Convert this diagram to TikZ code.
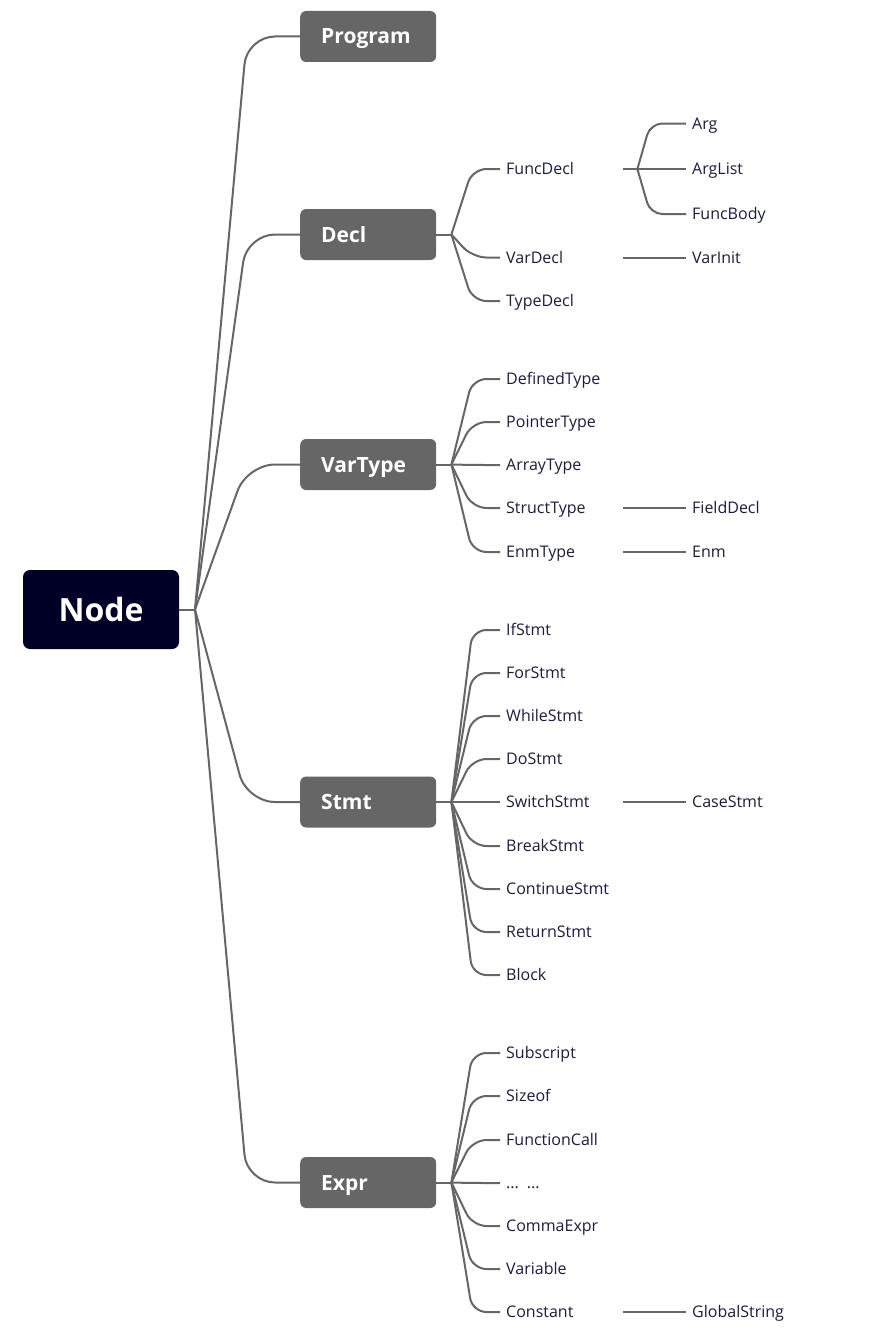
\documentclass[tikz,border=0pt]{standalone}
\usepackage{fontspec}
\setmainfont{Open Sans}
\definecolor{boxgray}{HTML}{666666}
\definecolor{linegray}{HTML}{666666}
\definecolor{rootnavy}{HTML}{000026}
\definecolor{textnavy}{HTML}{1C1C3C}
\begin{document}
\begin{tikzpicture}[x=1pt,y=-1pt,
  rootbox/.style={fill=rootnavy, rounded corners=7pt, minimum width=156pt, minimum height=79pt,
    text=white, font=\fontsize{32}{36}\selectfont\bfseries, inner sep=0pt,
    text height=23pt, text depth=0pt},
  mainbox/.style={fill=boxgray, rounded corners=6pt, anchor=west, text width=94pt, inner xsep=21pt,
    minimum height=51pt, align=left, text=white, font=\fontsize{21}{24}\selectfont\bfseries,
    text height=15pt, text depth=0pt},
  leaftwo/.style={anchor=west, text width=111pt, inner xsep=6pt, inner ysep=2pt, align=left,
    text=textnavy, font=\fontsize{16}{18}\selectfont, text height=11.5pt, text depth=0pt},
  leafthree/.style={anchor=west, inner xsep=6pt, inner ysep=2pt, align=left,
    text=textnavy, font=\fontsize{16}{18}\selectfont, text height=11.5pt, text depth=0pt},
  conn/.style={draw=linegray, line width=2pt},
]
\useasboundingbox (0,0) rectangle (893,1330);

% root
\node[rootbox] (root) at (101,609.5) {Node};
\coordinate (rj) at (195,609.5);
\coordinate (rb) at (247,0);

% main boxes
\node[mainbox] (prog) at (300,36.5) {Program};
\node[mainbox] (decl) at (300,234.5) {Decl};
\node[mainbox] (vart) at (300,464.5) {VarType};
\node[mainbox] (stmt) at (300,802) {Stmt};
\node[mainbox] (expr) at (300,1182.5) {Expr};

\draw[conn] (root.east) -- (rj);
\foreach \b in {prog,decl,vart,stmt,expr}{
  \draw[conn, rounded corners=28pt] (rj) -- (rb |- \b.west) -- (\b.west);
}

% Decl children
\node[leaftwo] (funcdecl) at (500,169) {FuncDecl};
\node[leaftwo] (vardecl) at (500,257.5) {VarDecl};
\node[leaftwo] (typedecl) at (500,301) {TypeDecl};
\node[leafthree] (arg) at (686,123.5) {Arg};
\node[leafthree] (arglist) at (686,169) {ArgList};
\node[leafthree] (funcbody) at (686,214) {FuncBody};
\node[leafthree] (varinit) at (686,257.5) {VarInit};

% VarType children
\node[leaftwo] (definedtype) at (500,379) {DefinedType};
\node[leaftwo] (pointertype) at (500,422) {PointerType};
\node[leaftwo] (arraytype) at (500,465) {ArrayType};
\node[leaftwo] (structtype) at (500,508) {StructType};
\node[leaftwo] (enmtype) at (500,552) {EnmType};
\node[leafthree] (fielddecl) at (686,508) {FieldDecl};
\node[leafthree] (enm) at (686,552) {Enm};

% Stmt children
\node[leaftwo] (ifstmt) at (500,630) {IfStmt};
\node[leaftwo] (forstmt) at (500,673) {ForStmt};
\node[leaftwo] (whilestmt) at (500,716) {WhileStmt};
\node[leaftwo] (dostmt) at (500,759) {DoStmt};
\node[leaftwo] (switchstmt) at (500,802) {SwitchStmt};
\node[leaftwo] (breakstmt) at (500,846) {BreakStmt};
\node[leaftwo] (continuestmt) at (500,889) {ContinueStmt};
\node[leaftwo] (returnstmt) at (500,932) {ReturnStmt};
\node[leaftwo] (block) at (500,975) {Block};
\node[leafthree] (casestmt) at (686,802) {CaseStmt};

% Expr children
\node[leaftwo] (subscript) at (500,1053) {Subscript};
\node[leaftwo] (sizeof) at (500,1096) {Sizeof};
\node[leaftwo] (functioncall) at (500,1140) {FunctionCall};
\node[leaftwo] (dots) at (500,1183) {... ...};
\node[leaftwo] (commaexpr) at (500,1226) {CommaExpr};
\node[leaftwo] (variable) at (500,1269) {Variable};
\node[leaftwo] (constant) at (500,1312) {Constant};
\node[leafthree] (globalstring) at (686,1312) {GlobalString};

% level-2 connectors
\foreach \p/\kids in {decl/{funcdecl,vardecl,typedecl},
  vart/{definedtype,pointertype,arraytype,structtype,enmtype},
  stmt/{ifstmt,forstmt,whilestmt,dostmt,switchstmt,breakstmt,continuestmt,returnstmt,block},
  expr/{subscript,sizeof,functioncall,dots,commaexpr,variable,constant}}{
  \coordinate (pj) at ([xshift=15pt]\p.east);
  \coordinate (pb) at ([xshift=36pt]\p.east);
  \draw[conn] (\p.east) -- (pj);
  \foreach \k in \kids {
    \draw[conn, rounded corners=14pt] (pj) -- (pb |- \k.west) -- (\k.west);
  }
}

% level-3 connectors
\coordinate (fj) at ([xshift=14pt]funcdecl.east);
\coordinate (fb) at ([xshift=27pt]funcdecl.east);
\draw[conn] (funcdecl.east) -- (fj);
\foreach \k in {arg,arglist,funcbody}{
  \draw[conn, rounded corners=12pt] (fj) -- (fb |- \k.west) -- (\k.west);
}
\draw[conn] (vardecl.east) -- (varinit.west);
\draw[conn] (structtype.east) -- (fielddecl.west);
\draw[conn] (enmtype.east) -- (enm.west);
\draw[conn] (switchstmt.east) -- (casestmt.west);
\draw[conn] (constant.east) -- (globalstring.west);
\end{tikzpicture}
\end{document}
